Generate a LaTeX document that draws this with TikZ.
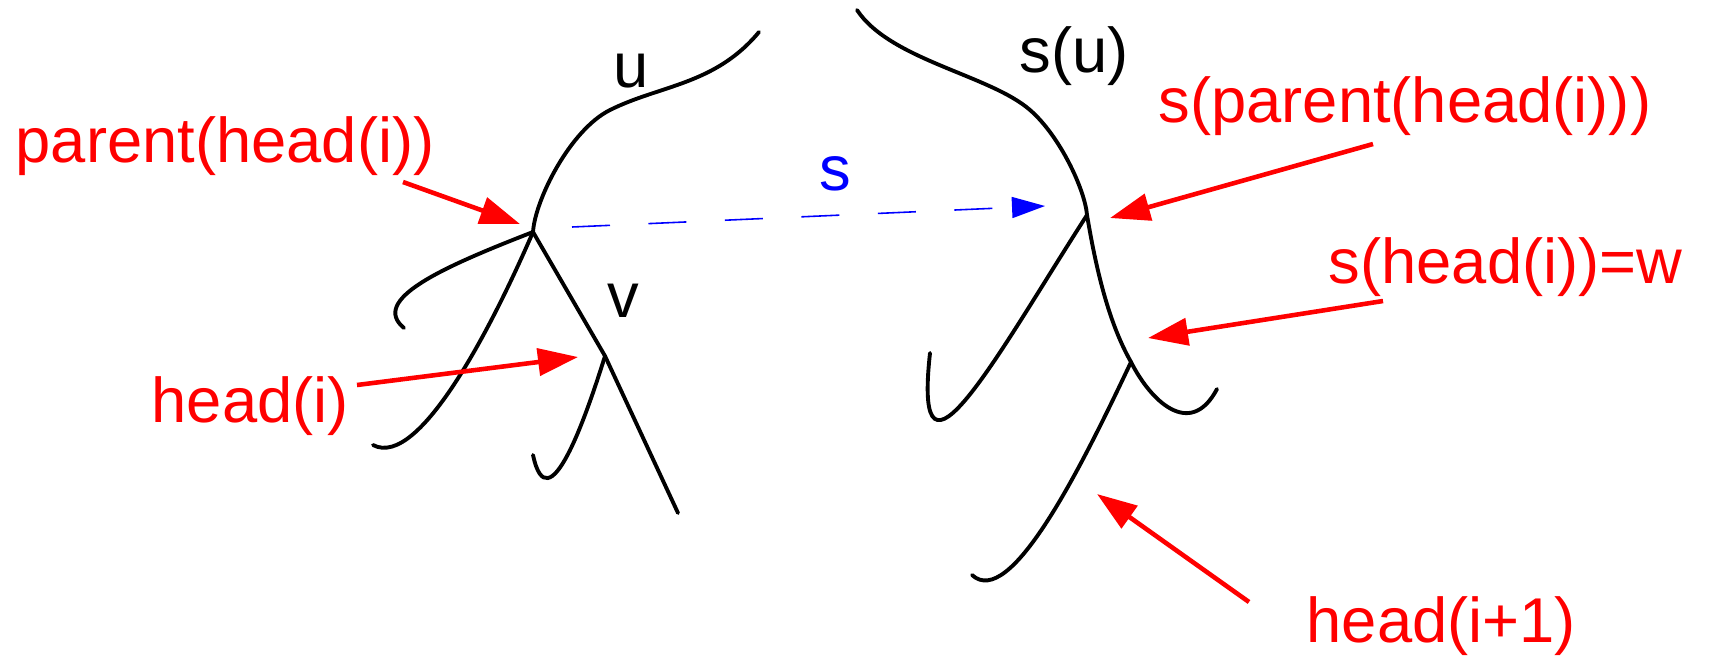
\documentclass[tikz,border=0pt]{standalone}
\usepackage{fontspec}
\setmainfont{Liberation Sans}
\usetikzlibrary{arrows.meta}
\begin{document}
\begin{tikzpicture}[x=0.01cm,y=-0.01cm,
  branch/.style={line width=1.1pt,black,line cap=round},
  redarrow/.style={line width=1.3pt,red,-{Triangle[length=0.40cm,width=0.27cm]}},
  bluearrow/.style={line width=0.45pt,blue,dash pattern=on 0.38cm off 0.385cm,-{Triangle[length=0.33cm,width=0.21cm]}},
  lbl/.style={inner sep=0pt,anchor=base west,font=\fontsize{18}{20}\selectfont}]
\useasboundingbox (0,0) rectangle (1710,660);
% junctions
\coordinate (P) at (533,232);
\coordinate (V) at (605,356);
\coordinate (Q) at (1087,215);
\coordinate (R) at (1131,362);
% left tree
\draw[branch] (759,32) .. controls (715,85) and (660,85) .. (610,110)
                       .. controls (570,130) and (535,200) .. (P);
\draw[branch] (P) .. controls (440,268) and (370,300) .. (404,328);
\draw[branch] (P) .. controls (495,320) and (420,470) .. (373,445);
\draw[branch] (P) -- (V);
\coordinate (Vend) at (678,513);
\draw[branch] (V) -- (Vend);
\draw[branch] (V) .. controls (585,420) and (548,525) .. (533,455);
% right tree
\draw[branch] (857,10) .. controls (890,60) and (990,75) .. (1030,110)
                       .. controls (1060,136) and (1085,190) .. (Q);
\draw[branch] (Q) .. controls (1000,350) and (912,515) .. (930,353);
\draw[branch] (Q) .. controls (1097,275) and (1110,325) .. (R)
                  .. controls (1150,400) and (1190,440) .. (1217,389);
\draw[branch] (R) .. controls (1080,470) and (1010,610) .. (972,575);
% labels
\node[lbl] (lu) at (613,87) {u};
\node[lbl] (lv) at (607,317) {v};
\node[lbl] (lsu) at (1019,72) {s(u)};
\node[lbl,blue] (ls) at (819,190) {s};
\node[lbl,red] (lphi) at (15,162) {parent(head(i))};
\node[lbl,red] (lhi) at (151,422) {head(i)};
\node[lbl,red] (lsphi) at (1158,122) {s(parent(head(i)))};
\node[lbl,red] (lshi) at (1328,283) {s(head(i))=w};
\node[lbl,red] (lhi1) at (1306,642) {head(i+1)};
% arrow endpoints
\coordinate (a1s) at (403,182); \coordinate (a1t) at (520,224);
\coordinate (a2s) at (357,385); \coordinate (a2t) at (578,357);
\coordinate (a3s) at (1373,144); \coordinate (a3t) at (1110,218);
\coordinate (a4s) at (1383,301); \coordinate (a4t) at (1148,338);
\coordinate (a5s) at (1249,602); \coordinate (a5t) at (1097,494);
\coordinate (bs) at (572,227); \coordinate (bt) at (1045,206);
\draw[redarrow] (a1s) -- (a1t);
\draw[redarrow] (a2s) -- (a2t);
\draw[redarrow] (a3s) -- (a3t);
\draw[redarrow] (a4s) -- (a4t);
\draw[redarrow] (a5s) -- (a5t);
\draw[bluearrow] (bs) -- (bt);
\end{tikzpicture}
\end{document}
